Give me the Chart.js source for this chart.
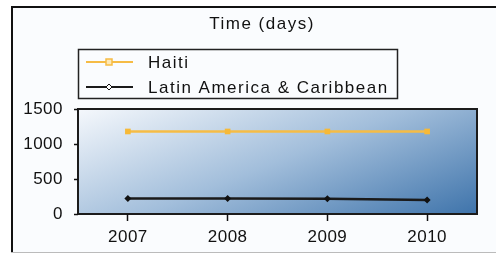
<!DOCTYPE html>
<html>
<head>
<meta charset="utf-8">
<script src="https://cdn.jsdelivr.net/npm/chart.js@4"></script>
<style>
  html, body { margin: 0; padding: 0; background: #fff; }
  #wrap { width: 496px; height: 254px; }
</style>
</head>
<body>
<div id="wrap"><canvas id="idGrafica" width="496" height="254"></canvas></div>
<script>
var titulo = 'Time (days)';
var anios = ['2007', '2008', '2009', '2010'];
var haiti = [1179, 1179, 1179, 1179];
var latam = [220, 220, 218, 200];
var marcasY = [0, 500, 1000, 1500];

var fuente = '"Liberation Sans", Arial, sans-serif';

// marco, fondo degradado, titulo y leyenda
var decoracion = {
    id: 'decoracion',
    beforeDraw: function (chart) {
        var ctx = chart.ctx;
        ctx.save();
        ctx.fillStyle = '#fafcfe';
        ctx.fillRect(11, 6, 485, 246);
        ctx.strokeStyle = '#111';
        ctx.lineWidth = 2;
        ctx.beginPath();
        ctx.moveTo(12, 252);
        ctx.lineTo(12, 7);
        ctx.lineTo(496, 7);
        ctx.stroke();
        ctx.strokeStyle = '#bbb';
        ctx.lineWidth = 1;
        ctx.beginPath();
        ctx.moveTo(11, 252.5);
        ctx.lineTo(496, 252.5);
        ctx.stroke();

        var a = chart.chartArea;
        var g = ctx.createLinearGradient(a.left, a.top, a.left + 90, a.top + 227);
        g.addColorStop(0, '#f5f8fc');
        g.addColorStop(0.5, '#a2bedb');
        g.addColorStop(1, '#3f74ab');
        ctx.fillStyle = g;
        ctx.fillRect(a.left, a.top, a.right - a.left, a.bottom - a.top);
        ctx.strokeStyle = '#1c1c1c';
        ctx.lineWidth = 2;
        ctx.strokeRect(a.left, a.top, a.right - a.left, a.bottom - a.top);

        // titulo
        ctx.letterSpacing = '1.5px';
        ctx.fillStyle = '#111';
        ctx.font = '17px ' + fuente;
        ctx.textAlign = 'center';
        ctx.textBaseline = 'middle';
        ctx.fillText(titulo, 262, 24);

        // leyenda
        ctx.strokeStyle = '#222';
        ctx.lineWidth = 1.5;
        ctx.strokeRect(78.5, 49.5, 319, 49);
        var filas = [62, 87];
        ctx.textAlign = 'left';
        chart.data.datasets.forEach(function (ds, i) {
            var y = filas[i];
            ctx.strokeStyle = ds.borderColor;
            ctx.lineWidth = 2;
            ctx.beginPath();
            ctx.moveTo(86, y);
            ctx.lineTo(133, y);
            ctx.stroke();
            if (i === 0) {
                ctx.fillStyle = '#fde9b8';
                ctx.fillRect(106, y - 3, 6, 6);
                ctx.lineWidth = 1.5;
                ctx.strokeRect(106, y - 3, 6, 6);
            } else {
                ctx.fillStyle = '#fff';
                ctx.beginPath();
                ctx.moveTo(109, y - 3);
                ctx.lineTo(112, y);
                ctx.lineTo(109, y + 3);
                ctx.lineTo(106, y);
                ctx.closePath();
                ctx.fill();
                ctx.lineWidth = 1;
                ctx.strokeStyle = '#111';
                ctx.stroke();
            }
            ctx.fillStyle = '#111';
            ctx.fillText(ds.label, 148, y + 1);
        });
        ctx.restore();
        ctx.letterSpacing = '0.5px';
    }
};

var ctx = document.getElementById('idGrafica').getContext('2d');
var myChart = new Chart(ctx, {
    type: 'line',
    data: {
        labels: anios,
        datasets: [
            {
                label: 'Haiti',
                data: haiti,
                borderColor: '#f6bc45',
                backgroundColor: '#f6b938',
                borderWidth: 2.5,
                pointStyle: 'rect',
                pointRadius: 4,
                pointBorderWidth: 0
            },
            {
                label: 'Latin America & Caribbean',
                data: latam,
                borderColor: '#1a1a1a',
                backgroundColor: '#111',
                borderWidth: 2.5,
                pointStyle: 'rectRot',
                pointRadius: 3.5,
                pointBorderWidth: 0
            }
        ]
    },
    options: {
        responsive: false,
        animation: false,
        layout: { padding: { top: 109, right: 19, left: 0, bottom: 0 } },
        plugins: {
            legend: { display: false },
            title: { display: false },
            tooltip: { enabled: false }
        },
        scales: {
            x: {
                offset: true,
                afterFit: function (s) { s.height = 40; },
                grid: {
                    offset: false,
                    drawOnChartArea: false,
                    tickLength: 7,
                    tickWidth: 1.5,
                    tickColor: '#111'
                },
                border: { display: false },
                ticks: {
                    color: '#111',
                    padding: 6,
                    maxRotation: 0,
                    font: { family: fuente, size: 17 }
                }
            },
            y: {
                min: 0,
                max: 1500,
                afterFit: function (s) { s.width = 78; },
                afterBuildTicks: function (s) {
                    s.ticks = marcasY.map(function (v) { return { value: v }; });
                },
                grid: {
                    drawOnChartArea: false,
                    tickLength: 4,
                    tickWidth: 1.5,
                    tickColor: '#111'
                },
                border: { display: false },
                ticks: {
                    color: '#111',
                    padding: 11,
                    font: { family: fuente, size: 17 },
                    callback: function (v) { return String(v); }
                }
            }
        }
    },
    plugins: [decoracion]
});
</script>
</body>
</html>
